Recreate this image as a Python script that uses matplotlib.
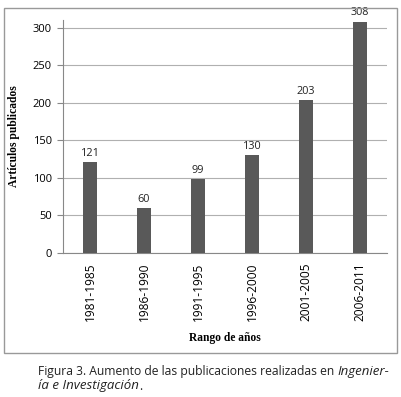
import matplotlib
matplotlib.use("Agg")
import matplotlib.pyplot as plt
from matplotlib.patches import Rectangle

categories = ["1981-1985", "1986-1990", "1991-1995", "1996-2000", "2001-2005", "2006-2011"]
values = [121, 60, 99, 130, 203, 308]
yticks = [0, 50, 100, 150, 200, 250, 300]

plt.rcParams['font.family'] = ['Open Sans', 'DejaVu Sans']

fig = plt.figure(figsize=(4.02, 3.97), dpi=100)
ax = fig.add_axes([63/402, 1-253/397, 324/402, 233/397])

x = list(range(len(categories)))
bars = ax.bar(x, values, width=0.26, color="#595959", zorder=3)
for xi, v in zip(x, values):
    ax.text(xi, v + 4, str(v), ha="center", va="bottom", fontsize=7.8, color="#222222", zorder=4)

ax.set_xlim(-0.5, len(categories) - 0.5)
ax.set_ylim(0, 310)
ax.set_yticks(yticks)
ax.set_yticklabels([str(t) for t in yticks], fontsize=8)
ax.set_xticks(x)
ax.set_xticklabels(categories, rotation=90, fontsize=8.6)
ax.tick_params(axis="x", length=0, pad=7)
ax.tick_params(axis="y", length=4, color="#888888", pad=4)
ax.yaxis.grid(True, color="#b0b0b0", linewidth=0.8, zorder=0)
for s in ["top", "right"]:
    ax.spines[s].set_visible(False)
ax.spines["left"].set_color("#888888")
ax.spines["bottom"].set_color("#888888")

ax.set_ylabel("Artículos publicados", fontsize=8.3, labelpad=9, family="Liberation Serif", fontweight="bold")
ax.set_xlabel("Rango de años", fontsize=8.3, labelpad=8, family="Liberation Serif", fontweight="bold")

fig.patches.append(Rectangle((4/402, 1-353/397), 393/402, 345/397, transform=fig.transFigure,
                             fill=False, edgecolor="#999999", linewidth=1.0))

fig.text(38/402, 1-372/397, "Figura 3. Aumento de las publicaciones realizadas en ", fontsize=8.7,
         va="center", ha="left", color="#222222")
fig.canvas.draw()
r = fig.canvas.get_renderer()
bb = fig.texts[-1].get_window_extent(r)
fig.text(bb.x1/402, 1-372/397, "Ingenier-", fontsize=9.5, va="center", ha="left", style="italic", color="#222222")
fig.text(38/402, 1-386/397, "ía e Investigación", fontsize=9.5, va="center", ha="left", style="italic", color="#222222")
bb2 = fig.texts[-1].get_window_extent(r)
fig.text(bb2.x1/402, 1-386/397, ".", fontsize=8.7, va="center", ha="left", color="#222222")

fig.savefig("out.png", dpi=100)
